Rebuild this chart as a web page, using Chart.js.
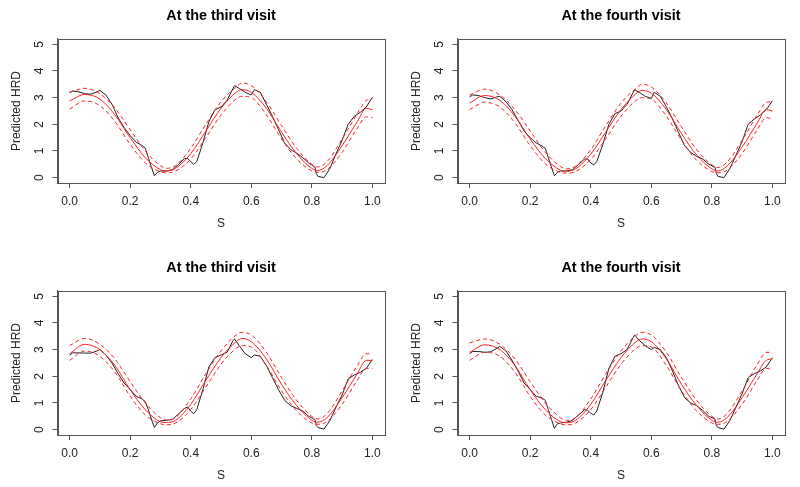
<!DOCTYPE html>
<html lang="en">
<head>
  <meta charset="UTF-8">
  <title>Predicted HRD by visit</title>
  <style>
    body {
      margin: 0;
      background: #fff;
      font-family: 'Liberation Sans', Arial, sans-serif;
    }
    .panel {
      position: absolute;
      width: 400px;
      height: 235px;
    }
  </style>
  <script src="https://cdn.jsdelivr.net/npm/chart.js"></script>
</head>
<body>
  <div class="panel" style="left:0;top:0"><canvas id="p1" width="400" height="235"></canvas></div>
  <div class="panel" style="left:400px;top:0"><canvas id="p2" width="400" height="235"></canvas></div>
  <div class="panel" style="left:0;top:252px"><canvas id="p3" width="400" height="235"></canvas></div>
  <div class="panel" style="left:400px;top:252px"><canvas id="p4" width="400" height="235"></canvas></div>

  <script>
    const titles = ["At the third visit", "At the fourth visit", "At the third visit", "At the fourth visit"];
    const xTicks = [0, 0.2, 0.4, 0.6, 0.8, 1.0];
    const yTicks = [0, 1, 2, 3, 4, 5];

    // S grid for the observed (black) curves
    const sObs = [0, 0.01, 0.03, 0.05, 0.07, 0.09, 0.1, 0.12, 0.14, 0.16, 0.18, 0.2, 0.22, 0.24, 0.25, 0.26, 0.27, 0.28, 0.29, 0.3,
      0.32, 0.34, 0.36, 0.38, 0.39, 0.4, 0.41, 0.42, 0.44, 0.46, 0.48, 0.5, 0.52, 0.54, 0.545, 0.56, 0.58, 0.6, 0.61, 0.63,
      0.65, 0.67, 0.69, 0.71, 0.73, 0.75, 0.77, 0.79, 0.81, 0.815, 0.82, 0.84, 0.86, 0.88, 0.9, 0.92, 0.94, 0.96, 0.98, 1.0];

    const obs1 = [3.18, 3.25, 3.22, 3.15, 3.13, 3.22, 3.27, 3.1, 2.75, 2.25, 1.88, 1.58, 1.33, 1.2, 1.1, 0.75, 0.4, 0.07, 0.2, 0.25,
      0.25, 0.3, 0.5, 0.72, 0.72, 0.6, 0.5, 0.6, 1.3, 2.1, 2.55, 2.65, 2.9, 3.35, 3.45, 3.35, 3.2, 3.1, 3.3, 3.2,
      2.75, 2.3, 1.8, 1.3, 1.05, 0.92, 0.75, 0.55, 0.4, 0.15, 0.05, 0.0, 0.35, 0.9, 1.4, 2.0, 2.3, 2.45, 2.65, 3.02];
    const obs2 = [3.03, 3.1, 3.08, 3.0, 2.95, 3.03, 3.05, 2.85, 2.55, 2.15, 1.75, 1.5, 1.3, 1.18, 1.1, 0.75, 0.4, 0.07, 0.2, 0.25,
      0.25, 0.3, 0.5, 0.7, 0.7, 0.55, 0.48, 0.6, 1.25, 2.0, 2.4, 2.5, 2.75, 3.2, 3.3, 3.2, 3.05, 2.97, 3.2, 3.05,
      2.65, 2.2, 1.7, 1.2, 0.95, 0.8, 0.7, 0.5, 0.4, 0.15, 0.05, 0.0, 0.35, 0.85, 1.35, 2.0, 2.2, 2.35, 2.55, 2.88];
    const obs3 = [2.8, 2.88, 2.88, 2.87, 2.87, 2.95, 3.0, 2.8, 2.5, 2.1, 1.75, 1.5, 1.25, 1.15, 1.05, 0.75, 0.4, 0.08, 0.25, 0.33,
      0.35, 0.38, 0.6, 0.8, 0.85, 0.7, 0.6, 0.75, 1.5, 2.35, 2.7, 2.8, 2.9, 3.35, 3.4, 3.15, 2.85, 2.7, 2.8, 2.75,
      2.4, 1.95, 1.5, 1.1, 0.9, 0.8, 0.7, 0.5, 0.38, 0.15, 0.08, 0.02, 0.35, 0.85, 1.3, 1.9, 2.05, 2.15, 2.3, 2.63];
    const obs4 = [2.85, 2.93, 2.93, 2.9, 2.92, 3.05, 3.12, 2.95, 2.6, 2.2, 1.75, 1.5, 1.25, 1.18, 1.1, 0.75, 0.4, 0.05, 0.22, 0.25,
      0.28, 0.35, 0.55, 0.75, 0.72, 0.62, 0.55, 0.7, 1.4, 2.3, 2.75, 2.85, 3.0, 3.45, 3.55, 3.35, 3.15, 3.0, 3.08, 3.0,
      2.7, 2.2, 1.65, 1.2, 1.0, 0.9, 0.72, 0.5, 0.4, 0.15, 0.08, 0.02, 0.35, 0.85, 1.35, 1.95, 2.1, 2.2, 2.35, 2.7];

    // S grid for the fitted curve and its bands
    const sFit = [0, 0.05, 0.1, 0.15, 0.2, 0.25, 0.3, 0.32, 0.35, 0.4, 0.45, 0.5, 0.55, 0.57, 0.6, 0.65, 0.7, 0.75, 0.8, 0.82, 0.85, 0.9, 0.95, 0.98, 1.0];

    const fit1 = [2.88, 3.12, 2.95, 2.35, 1.5, 0.75, 0.3, 0.25, 0.35, 0.9, 1.75, 2.6, 3.2, 3.3, 3.2, 2.6, 1.7, 0.9, 0.35, 0.27, 0.45, 1.2, 2.1, 2.6, 2.55];
    const upp1 = [3.2, 3.35, 3.15, 2.6, 1.8, 1.0, 0.45, 0.35, 0.45, 1.1, 2.0, 2.85, 3.4, 3.55, 3.45, 2.85, 1.95, 1.1, 0.5, 0.4, 0.6, 1.45, 2.4, 2.9, 2.95];
    const low1 = [2.57, 2.88, 2.7, 2.1, 1.25, 0.55, 0.22, 0.18, 0.25, 0.7, 1.5, 2.35, 2.95, 3.05, 3.0, 2.35, 1.45, 0.7, 0.25, 0.2, 0.3, 0.95, 1.85, 2.28, 2.25];

    const fit2 = [2.8, 3.08, 2.9, 2.3, 1.45, 0.72, 0.28, 0.24, 0.33, 0.88, 1.72, 2.55, 3.15, 3.27, 3.17, 2.55, 1.65, 0.85, 0.33, 0.25, 0.43, 1.15, 2.05, 2.55, 2.5];
    const upp2 = [3.1, 3.32, 3.1, 2.55, 1.75, 0.95, 0.42, 0.33, 0.43, 1.05, 1.95, 2.8, 3.35, 3.5, 3.4, 2.8, 1.9, 1.05, 0.48, 0.38, 0.58, 1.4, 2.35, 2.82, 2.85];
    const low2 = [2.55, 2.83, 2.65, 2.05, 1.2, 0.52, 0.2, 0.17, 0.23, 0.68, 1.47, 2.3, 2.9, 3.0, 2.95, 2.3, 1.4, 0.65, 0.23, 0.18, 0.28, 0.9, 1.8, 2.25, 2.2];

    const fit3 = [2.85, 3.2, 3.0, 2.4, 1.5, 0.75, 0.3, 0.27, 0.35, 0.95, 1.85, 2.7, 3.3, 3.42, 3.3, 2.65, 1.7, 0.9, 0.35, 0.28, 0.45, 1.2, 2.1, 2.6, 2.6];
    const upp3 = [3.15, 3.42, 3.2, 2.65, 1.8, 1.0, 0.45, 0.36, 0.45, 1.15, 2.1, 2.95, 3.55, 3.65, 3.55, 2.9, 1.95, 1.1, 0.5, 0.4, 0.6, 1.45, 2.4, 2.85, 2.85];
    const low3 = [2.6, 2.95, 2.75, 2.15, 1.25, 0.55, 0.22, 0.18, 0.25, 0.75, 1.6, 2.45, 3.05, 3.15, 3.1, 2.4, 1.45, 0.7, 0.25, 0.2, 0.3, 0.95, 1.85, 2.3, 2.3];

    const fit4 = [2.9, 3.18, 3.0, 2.4, 1.5, 0.75, 0.3, 0.26, 0.35, 0.95, 1.85, 2.7, 3.3, 3.4, 3.3, 2.65, 1.7, 0.9, 0.35, 0.28, 0.45, 1.2, 2.1, 2.6, 2.65];
    const upp4 = [3.25, 3.4, 3.2, 2.65, 1.8, 1.0, 0.45, 0.35, 0.45, 1.15, 2.1, 2.95, 3.55, 3.65, 3.55, 2.9, 1.95, 1.1, 0.5, 0.4, 0.6, 1.45, 2.45, 2.9, 2.9];
    const low4 = [2.6, 2.9, 2.75, 2.15, 1.25, 0.55, 0.22, 0.18, 0.25, 0.75, 1.6, 2.45, 3.05, 3.15, 3.1, 2.4, 1.45, 0.7, 0.25, 0.2, 0.3, 0.95, 1.85, 2.3, 2.25];

    const panels = [
      { id: "p1", obs: obs1, fit: fit1, upp: upp1, low: low1 },
      { id: "p2", obs: obs2, fit: fit2, upp: upp2, low: low2 },
      { id: "p3", obs: obs3, fit: fit3, upp: upp3, low: low3 },
      { id: "p4", obs: obs4, fit: fit4, upp: upp4, low: low4 }
    ];

    const FONT = "'Liberation Sans', Arial, sans-serif";
    const AXIS_COL = '#555';
    const TEXT_COL = '#222';

    // R-style box round the plot region
    const boxPlugin = {
      id: 'plotBox',
      afterDraw(chart) {
        const a = chart.chartArea, ctx = chart.ctx;
        ctx.save();
        ctx.setLineDash([]);
        ctx.strokeStyle = '#555';
        ctx.lineWidth = 1;
        ctx.strokeRect(Math.round(a.left) + 0.5, Math.round(a.top) + 0.5, Math.round(a.right - a.left), Math.round(a.bottom - a.top));
        ctx.restore();
      }
    };

    const toPts = (xs, ys) => xs.map((x, i) => ({ x: x, y: ys[i] }));

    function drawPanel(p, idx) {
      const redLine = (data, dashed) => ({
        data: data,
        borderColor: '#ff2020',
        borderWidth: 1,
        borderDash: dashed ? [4, 3] : [],
        pointRadius: 0,
        fill: false,
        cubicInterpolationMode: 'monotone'
      });

      new Chart(document.getElementById(p.id), {
        type: 'line',
        data: {
          datasets: [
            redLine(toPts(sFit, p.fit), false),
            redLine(toPts(sFit, p.upp), true),
            redLine(toPts(sFit, p.low), true),
            {
              data: toPts(sObs, p.obs),
              borderColor: '#222',
              borderWidth: 1,
              pointRadius: 0,
              tension: 0,
              fill: false
            }
          ]
        },
        options: {
          responsive: false,
          animation: false,
          layout: { padding: { left: 0, right: 15.5, top: 0, bottom: 0 } },
          plugins: {
            legend: { display: false },
            tooltip: { enabled: false },
            title: {
              display: true,
              fullSize: false,
              text: titles[idx],
              color: '#000',
              font: { family: FONT, size: 14.4, weight: 'bold' },
              padding: { top: 7, bottom: 14.7 }
            }
          },
          scales: {
            x: {
              type: 'linear',
              min: -0.04,
              max: 1.04,
              afterBuildTicks: s => { s.ticks = xTicks.map(v => ({ value: v })); },
              grid: { drawOnChartArea: false, drawTicks: true, tickLength: 5, color: AXIS_COL },
              border: { display: true, color: AXIS_COL },
              ticks: {
                color: TEXT_COL,
                padding: 6.5,
                maxRotation: 0,
                font: { family: FONT, size: 12 },
                callback: v => v.toFixed(1)
              },
              title: {
                display: true,
                text: 'S',
                color: TEXT_COL,
                font: { family: FONT, size: 12 },
                padding: { top: 1.4, bottom: 3.8 }
              }
            },
            y: {
              type: 'linear',
              min: -0.2,
              max: 5.2,
              afterBuildTicks: s => { s.ticks = yTicks.map(v => ({ value: v })); },
              grid: { drawOnChartArea: false, drawTicks: true, tickLength: 5, color: AXIS_COL },
              border: { display: true, color: AXIS_COL },
              ticks: {
                color: TEXT_COL,
                padding: 9.75,
                minRotation: 90,
                maxRotation: 90,
                crossAlign: 'center',
                font: { family: FONT, size: 12 },
                callback: v => String(v)
              },
              title: {
                display: true,
                text: 'Predicted HRD',
                color: TEXT_COL,
                font: { family: FONT, size: 12 },
                padding: { top: 9.5, bottom: -5.3 }
              }
            }
          }
        },
        plugins: [boxPlugin]
      });
    }

    panels.forEach(drawPanel);
  </script>
</body>
</html>
